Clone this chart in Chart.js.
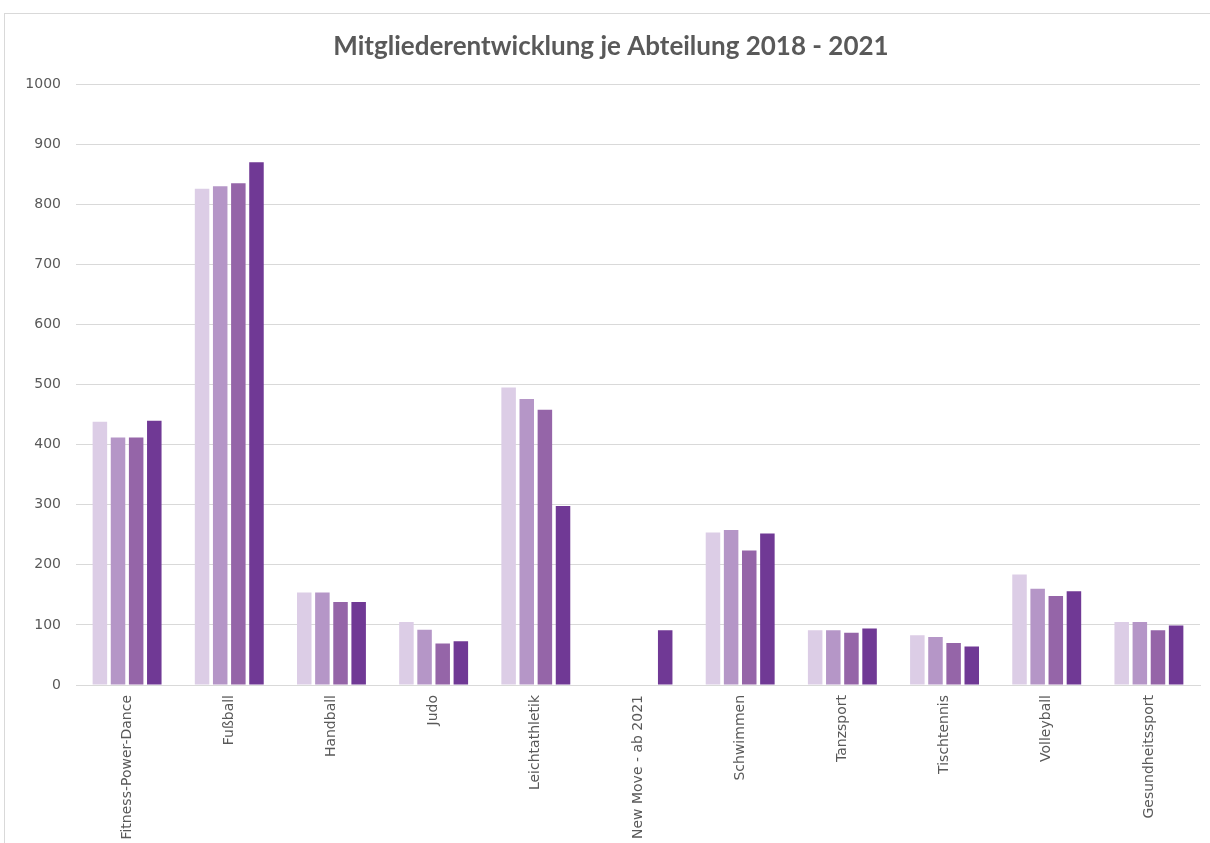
<!DOCTYPE html>
<html>
<head>
<meta charset="utf-8">
<script src="https://cdn.jsdelivr.net/npm/chart.js@4/dist/chart.umd.min.js"></script>
<style>
  html, body { margin: 0; padding: 0; background: #fff; }
  #frame {
    position: absolute; left: 4px; top: 13px; width: 1206px; height: 830px;
    border-left: 1px solid #d9d9d9; border-top: 1px solid #d9d9d9;
    box-sizing: border-box;
  }
  #wrap { position: absolute; left: 0; top: 0; width: 1205px; height: 829px; }
</style>
</head>
<body>
<div id="frame"><div id="wrap"><canvas id="mainChart"></canvas></div></div>
<script>
// departments
var categories = [
  "Fitness-Power-Dance", "Fußball", "Handball", "Judo", "Leichtathletik",
  "New Move - ab 2021", "Schwimmen", "Tanzsport", "Tischtennis", "Volleyball",
  "Gesundheitssport"
];
var years = ["2018", "2019", "2020", "2021"];
// members per year
var members2018 = [438, 826, 154, 105, 495, null, 254, 91, 83, 184, 105];
var members2019 = [412, 830, 154, 92, 476, null, 258, 91, 80, 160, 105];
var members2020 = [412, 835, 138, 69, 458, null, 224, 87, 70, 148, 91];
var members2021 = [440, 870, 138, 73, 298, 91, 252, 94, 64, 156, 99];
var yTicks = [0, 100, 200, 300, 400, 500, 600, 700, 800, 900, 1000];

var colors = ["#dccde6", "#b596c7", "#9565a8", "#703995"];
var series = [members2018, members2019, members2020, members2021];

var textColor = "#595959";
var gridColor = "#d9d9d9";

const ctx = document.getElementById("mainChart").getContext("2d");
const chart = new Chart(ctx, {
  type: "bar",
  data: {
    labels: categories,
    datasets: series.map(function (vals, i) {
      return {
        label: years[i],
        data: vals,
        backgroundColor: colors[i],
        borderWidth: 0,
        categoryPercentage: 0.71,
        barPercentage: 0.8
      };
    })
  },
  options: {
    responsive: true,
    maintainAspectRatio: false,
    animation: false,
    // a bit of left padding nudges the centred title right like the original
    layout: { padding: { top: 17, right: 10, left: 17, bottom: 0 } },
    plugins: {
      legend: { display: false },
      tooltip: { enabled: false },
      title: {
        display: true,
        text: "Mitgliederentwicklung je Abteilung 2018 - 2021",
        color: textColor,
        font: { family: "Lato", size: 26, weight: "bold" },
        padding: { top: 0, bottom: 22 }
      }
    },
    scales: {
      x: {
        grid: { display: false, drawTicks: false },
        border: { color: gridColor, width: 1 },
        ticks: {
          color: textColor,
          font: { family: "DejaVu Sans", size: 14 },
          minRotation: 90,
          maxRotation: 90,
          padding: 10
        },
        afterFit: function (s) { s.height = 158; }
      },
      y: {
        min: 0,
        max: 1000,
        afterBuildTicks: function (s) {
          s.ticks = yTicks.map(function (v) { return { value: v }; });
        },
        grid: { color: gridColor, lineWidth: 1, drawTicks: false },
        border: { display: false },
        ticks: {
          color: textColor,
          font: { family: "DejaVu Sans", size: 14 },
          padding: 15,
          callback: function (v) { return String(v); }
        },
        afterFit: function (s) { s.width = 54; }
      }
    }
  }
});
</script>
</body>
</html>
